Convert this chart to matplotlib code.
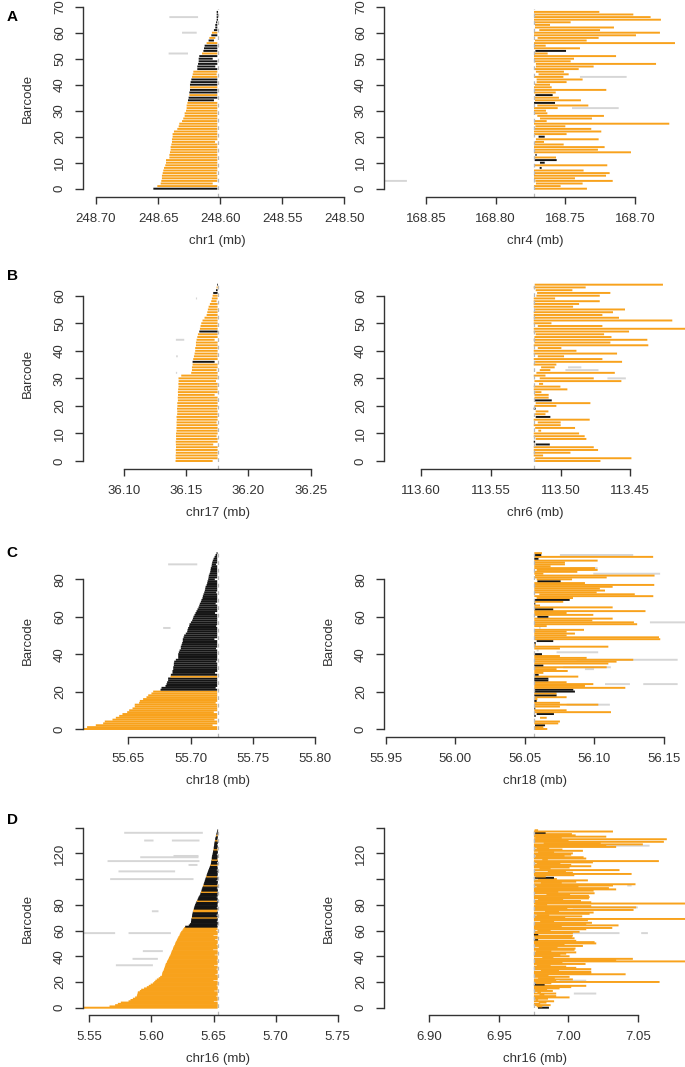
import matplotlib
matplotlib.use("Agg")
import matplotlib.pyplot as plt
from matplotlib.collections import LineCollection

plt.rcParams['font.family'] = ['Liberation Sans', 'DejaVu Sans']

# ---------------------------------------------------------------- data
# Every read (barcode) is a segment given as distances (kb) from the breakpoint,
# measured away from it.

# Panel A, left (chr1)
A_L_start = [51.8, 48.6, 45.9, 45.4, 44.9, 44.9, 44.3, 43.8, 43.2, 42.2,
             41.6, 41.6, 38.9, 38.9, 38.4, 37.9, 37.9, 37.3, 36.8, 36.8,
             36.3, 36.3, 35.2, 32.5, 31.4, 30.9, 28.7, 27.7, 26.6, 26.6,
             25.5, 25.0, 25.0, 24.4, 23.9, 23.4, 22.8, 22.8, 22.3, 22.3,
             22.3, 21.8, 21.2, 20.7, 20.1, 19.6, 16.4, 16.4, 15.8, 15.3,
             15.3, 14.8, 12.6, 11.5, 11.0, 10.5, 8.9, 7.3, 6.7, 5.1,
             4.6, 3.0, 1.9, 1.9, 1.3, 0.8, 0.8, 0.8, 0.8]
A_L_end = [0.3, 0.3, 4.0, 0.3, 0.3, 0.3, 0.8, 0.3, 0.3, 0.3,
           0.3, 0.3, 0.3, 0.3, 0.3, 0.3, 0.3, 0.3, 2.1, 0.3,
           0.3, 0.3, 0.3, 0.3, 0.3, 0.3, 0.3, 0.3, 0.3, 0.3,
           0.3, 0.3, 0.3, 0.3, 3.0, 0.3, 0.3, 0.3, 0.3, 0.3,
           0.3, 0.3, 0.3, 0.3, 0.8, 0.3, 0.3, 1.9, 0.3, 0.3,
           4.0, 0.3, 0.3, 0.3, 0.3, 0.3, 0.3, 3.0, 1.9, 0.3,
           0.3, 0.3, 0.3, 0.3, 0.3, -0.3, -0.3, -0.3, -0.3]
A_L_black = [0, 34, 35, 37, 38, 40, 41, 42, 46, 47, 48, 49, 50, 51, 53, 54, 55,
             57, 59, 61, 62, 63, 64, 65, 66, 67, 68]
A_L_grey = []
A_L_x_bc = [66, 60, 52]
A_L_x_s = [38.9, 28.7, 39.5]
A_L_x_e = [15.8, 16.9, 23.9]

# Panel A, right (chr4)
A_R_start = [0, 0, 1.4, 1.0, 0, 0, 0.7, 0, 4.1, 0,
             4.3, 0.5, 0, 1.0, 0, 0, 0, 0, 0.7, 1.4,
             3.3, 0, 0, 0, 1.0, 0, 0, 4.3, 2.4, 0,
             0, 0, 2.4, 0, 0.7, 0, 1.0, 0, 0, 0,
             0.7, 1.9, 1.9, 0, 3.3, 1.4, 0, 1.4, 1.4, 0,
             0, 0, 0, 1.0, 0, 0, 0, 0.7, 2.6, 0,
             0, 3.8, 0.7, 0.7, 0, 0, 0, 0, 0]
A_R_end = [38.0, 19.1, 34.9, 56.5, 29.4, 51.7, 54.3, 35.6, 5.5, 52.6,
           7.7, 16.3, 15.8, 1.9, 69.6, 45.9, 50.7, 21.3, 7.2, 46.4,
           7.7, 23.4, 48.3, 41.1, 22.5, 97.1, 9.1, 41.6, 50.2, 9.6,
           8.6, 17.0, 39.0, 15.1, 33.7, 17.9, 13.4, 15.6, 51.9, 12.7,
           11.5, 23.4, 34.9, 21.1, 24.9, 21.5, 32.1, 42.8, 87.6, 26.3,
           28.7, 58.9, 9.8, 23.0, 33.0, 8.4, 101.2, 37.8, 46.4, 73.2,
           90.4, 47.4, 57.4, 11.5, 26.3, 91.1, 83.7, 71.3, 46.9]
A_R_black = [8, 10, 11, 13, 20, 33, 36, 53]
A_R_grey = []
A_R_x_bc = [3, 31, 43]
A_R_x_s = [-118.0, 27.3, 33.0]
A_R_x_e = [-91.2, 60.8, 66.5]

# Panel B, left (chr17)
B_L_start = [33.8, 33.6, 33.7, 33.5, 33.6, 33.4, 33.5, 33.6, 33.3, 33.4,
             33.4, 33.0, 33.1, 32.9, 33.0, 32.8, 33.0, 32.5, 32.4, 32.6,
             32.3, 32.4, 31.9, 32.0, 31.8, 31.9, 31.7, 31.4, 31.5, 31.3,
             31.4, 29.2, 21.2, 20.6, 20.6, 20.1, 20.1, 19.6, 19.0, 18.5,
             18.0, 18.0, 17.4, 17.4, 16.9, 16.3, 15.8, 14.7, 14.2, 13.7,
             13.1, 12.1, 10.5, 8.8, 8.3, 7.8, 7.2, 6.2, 5.1, 4.6,
             4.0, 3.5, 1.3, 0.8, 0.3]
B_L_end = [4.0, 0, 0, 0, 0, 0, 3.5, 0, 0, 0.8,
           0, 0, 0, 0, 0.8, 0, 0, 0, 0, 0.3,
           0, 0, 0, 0, 2.4, 0, 0, 0, 0, 1.3,
           0, 0, 0, 0.8, 0, 0, 2.4, 0, 0, 0,
           0, 0, 0, 0, 2.4, 0, 0, 0, 0, 0,
           0, 0, 0, 0, 0, 0, 0, 0, 0.8, 0,
           0, 0, 0, 0, -0.3]
B_L_black = [36, 47, 61, 62, 64]
B_L_grey = []
B_L_x_bc = [59, 44, 38, 32]
B_L_x_s = [17.4, 33.5, 33.3, 33.5]
B_L_x_e = [16.5, 26.8, 32.0, 32.5]

# Panel B, right (chr6)
B_R_start = [1.0, 1.0, 0, 0, 0, 0, 1.4, 0, 1.4, 0,
             0, 3.3, 1.0, 0, 2.9, 0, 1.4, 1.0, 1.4, 0,
             0.5, 1.4, 0.5, 0.5, 0.5, 1.0, 0, 0, 3.8, 0.5,
             4.3, 0, 1.9, 4.3, 5.3, 0, 1.0, 0, 2.9, 0,
             0, 2.9, 0, 0.5, 0, 0.5, 1.4, 0, 0, 2.9,
             0, 0, 0, 0, 0, 1.0, 0, 0, 0, 0,
             1.9, 2.4, 1.4, 0, 0.7]
B_R_end = [47.8, 70.0, 6.7, 26.3, 46.1, 43.0, 11.5, 1.0, 37.7, 36.5,
           32.5, 5.3, 29.6, 19.3, 19.3, 40.1, 11.9, 8.4, 10.5, 1.4,
           16.2, 40.6, 12.9, 10.7, 10.7, 5.5, 24.1, 19.1, 6.7, 62.8,
           43.0, 8.4, 58.1, 11.9, 15.0, 16.2, 63.3, 49.2, 21.7, 59.7,
           30.6, 19.8, 82.1, 54.9, 81.4, 55.7, 50.4, 68.3, 115.0, 49.2,
           12.7, 99.3, 61.1, 49.2, 56.8, 65.4, 28.2, 32.5, 47.3, 15.3,
           47.3, 54.9, 27.7, 37.2, 92.6]
B_R_black = [6, 7, 16, 19, 22]
B_R_grey = []
B_R_x_bc = [34, 33, 30]
B_R_x_s = [24.6, 22.7, 52.8]
B_R_x_e = [34.1, 46.4, 66.0]

# Panel C, left (chr18)
C_L_start = [112.0, 104.8, 97.8, 91.9, 90.6, 84.4, 81.7, 79.0, 76.4, 72.6,
             71.0, 68.3, 66.5, 66.5, 63.0, 62.4, 59.8, 57.1, 55.7, 53.1,
             51.7, 45.8, 45.0, 41.8, 41.0, 40.5, 39.7, 39.7, 37.8, 37.5,
             36.2, 36.2, 35.6, 35.6, 35.1, 35.1, 34.8, 33.5, 31.6, 31.6,
             31.6, 31.1, 30.5, 29.5, 29.5, 28.9, 28.4, 27.9, 27.9, 27.3,
             26.8, 25.5, 24.4, 24.1, 23.6, 22.8, 22.5, 21.4, 20.4, 19.8,
             19.3, 18.5, 17.7, 16.9, 16.1, 15.3, 14.7, 14.2, 13.4, 12.9,
             12.1, 11.8, 11.3, 10.7, 10.2, 9.9, 9.6, 8.8, 8.3, 8.0,
             7.5, 7.2, 7.0, 6.4, 5.9, 5.6, 5.4, 4.8, 4.6, 4.3,
             3.8, 3.2, 2.4, 1.6, 0.8]
C_L_end = [0.3, 0.3, 4.0, 0.3, 0.3, 2.5, 0.3, 0.3, 0.3, 3.0,
           0.3, 0.3, 0.3, 0.3, 1.5, 0.3, 0.3, 0.3, 0.3, 0.3,
           0.3, 0.3, 1.5, 0.3, 0.3, 0.3, 0.3, 0.3, 0.3, 0.3,
           2.0, 0.3, 0.3, 0.3, 0.3, 0.3, 1.0, 0.3, 0.3, 0.3,
           0.3, 0.3, 0.3, 1.2, 0.3, 0.3, 0.3, 0.3, 2.5, 0.3,
           0.3, 0.3, 0.3, 0.3, 0.3, 1.0, 0.3, 0.3, 0.3, 0.3,
           0.3, 0.3, 2.0, 0.3, 0.3, 0.3, 0.3, 1.5, 0.3, 0.3,
           0.3, 0.3, 0.3, 1.0, 0.3, 0.3, 0.3, 0.3, 0.3, 0.3,
           2.2, 0.3, 0.3, 0.3, 0.3, 0.3, 0.3, 0.3, 1.2, 0.3,
           0.3, 0.3, 0.3, 0.3, 0.0]
C_L_black = list(range(21, 28)) + list(range(29, 95))
C_L_grey = []
C_L_x_bc = [88, 54]
C_L_x_s = [39.7, 43.7]
C_L_x_e = [16.3, 37.8]

# Panel C, right (chr18)
C_R_start = [0, 0, 0.5, 0, 0, 0, 4.1, 0, 1.7, 0,
             0, 0, 0, 0, 0, 0, 0, 0, 0, 0,
             0, 0, 0, 0, 0, 0, 0, 0, 0, 0,
             0, 0, 0, 0, 0, 0, 0, 0, 0, 0,
             0, 16.0, 1.7, 0, 0, 0, 0, 1.7, 0, 0,
             0, 0, 0, 0, 3.4, 0, 0, 0, 0, 0,
             2.2, 0, 0, 0, 0, 0, 0, 0, 0, 0.5,
             1.7, 0, 3.6, 0, 0, 0, 0, 0, 0, 2.2,
             1.7, 0, 0.5, 0, 0, 1.7, 0, 0, 0, 0,
             0, 0, 0, 0.5, 0]
C_R_end = [9.3, 6.5, 7.7, 17.2, 18.4, 0.5, 8.9, 1.0, 14.1, 55.1,
           23.2, 0.7, 18.4, 46.0, 18.4, 1.7, 2.2, 23.2, 16.0, 16.0,
           29.2, 28.0, 65.4, 36.4, 42.4, 23.2, 10.1, 10.1, 31.6, 3.1,
           6.5, 24.0, 16.0, 52.0, 6.5, 53.2, 59.1, 71.1, 37.6, 18.4,
           5.5, 45.9, 3.1, 18.4, 53.2, 1.2, 1.0, 13.6, 90.5, 89.6,
           23.2, 29.2, 23.2, 35.7, 4.5, 8.9, 73.9, 71.6, 41.7, 56.3,
           10.1, 42.4, 23.2, 79.9, 13.6, 56.3, 4.1, 0.7, 20.8, 25.4,
           27.8, 85.5, 72.2, 44.8, 50.8, 47.1, 56.3, 86.2, 36.4, 18.9,
           27.1, 52.0, 86.4, 6.5, 30.9, 45.5, 43.6, 11.7, 22.0, 22.0,
           45.5, 3.0, 85.4, 5.0, 5.5]
C_R_black = [2, 7, 8, 11, 15, 18, 20, 21, 26, 27, 29, 34, 40, 46, 47, 60, 64,
             67, 69, 79, 91, 93]
C_R_grey = [5, 41, 42, 54]
C_R_x_bc = [13, 24, 24, 32, 33, 37, 57, 83, 93, 86]
C_R_x_s = [23.2, 50.8, 78.3, 36.4, 20.8, 30.4, 83.1, 42.4, 18.4, 25.6]
C_R_x_e = [54.3, 68.7, 103.0, 42.9, 55.0, 103.0, 112.0, 90.4, 71.1, 45.5]

# Panel D, left (chr16)
D_L_start = [112.0, 87.2, 82.7, 80.5, 78.1, 71.9, 70.3, 68.4, 66.6, 65.2,
             64.9, 64.6, 64.4, 62.8, 61.7, 59.4, 57.2, 55.6, 54.1, 52.3,
             51.2, 50.3, 49.1, 47.6, 46.4, 45.1, 44.9, 44.6, 44.3, 43.6,
             43.3, 42.9, 42.6, 42.2, 41.9, 41.2, 40.9, 40.2, 39.7, 39.3,
             38.7, 38.1, 37.8, 37.4, 37.0, 36.4, 36.1, 35.7, 35.1, 34.6,
             34.3, 33.8, 33.2, 32.8, 32.2, 31.7, 31.0, 30.6, 30.1, 29.5,
             28.6, 27.9, 27.2, 26.3, 23.4, 22.5, 21.7, 21.6, 21.4, 21.2,
             21.0, 20.8, 20.6, 20.4, 20.2, 19.9, 19.6, 19.3, 19.0, 18.6,
             18.3, 17.8, 17.3, 16.9, 16.4, 15.9, 15.4, 14.8, 14.2, 13.9,
             13.6, 13.2, 12.9, 12.5, 12.1, 11.8, 11.4, 11.0, 10.7, 10.4,
             10.0, 9.7, 9.4, 9.0, 8.6, 8.3, 7.9, 7.5, 7.1, 6.7,
             6.3, 6.0, 5.6, 5.4, 5.2, 5.0, 4.9, 4.8, 4.6, 4.3,
             4.1, 3.9, 3.7, 3.5, 3.3, 3.2, 3.0, 2.9, 2.7, 2.5,
             2.3, 2.1, 1.9, 1.6, 1.4, 1.1, 0.9, 0.6, 0.3]
D_L_end = [0.2, 0.2, 0.2, 0.2, 0.2, 3.2, 0.2, 0.2, 0.2, 1.5,
           0.2, 0.2, 0.2, 2.8, 0.2, 0.2, 0.2, 1.0, 0.2, 0.2,
           0.2, 3.5, 0.2, 0.2, 0.2, 0.2, 2.0, 0.2, 0.2, 0.2,
           1.2, 0.2, 0.2, 3.0, 0.2, 0.2, 0.2, 0.9, 0.2, 0.2,
           0.2, 2.5, 0.2, 0.2, 0.2, 3.8, 0.2, 0.2, 0.2, 1.0,
           0.2, 0.2, 0.2, 2.2, 0.2, 0.2, 3.5, 0.2, 0.2, 0.2,
           1.4, 0.2, 0.8, 0.2, 0.5, 0.2, 0.0, 0.8, 0.2, 0.2,
           0.5, 0.2, 1.2, 0.2, 0.0, 0.6, 0.2, 0.2, 0.9, 0.2,
           0.4, 0.2, 0.0, 0.7, 0.2, 0.2, 1.0, 0.2, 0.3, 0.2,
           0.5, 0.0, 0.2, 0.8, 0.2, 0.2, 0.4, 0.2, 0.0, 1.1,
           0.2, 0.2, 0.6, 0.2, 0.2, 0.3, 0.0, 0.9, 0.2, 0.2,
           0.5, 0.2, 0.2, 0.7, 0.0, 0.2, 0.4, 0.2, 0.2, 0.8,
           0.2, 0.0, 0.3, 0.2, 0.5, 0.2, 0.2, 0.6, 0.0, 0.2,
           0.2, 0.4, 0.2, 0.0, 0.2, 0.3, 0.2, 0.0, -0.2]
D_L_orange_in_black = [70, 75, 76, 83, 90, 95, 102, 111, 115, 123, 130, 134]
D_L_black = [i for i in range(63, 139) if i not in D_L_orange_in_black]
D_L_grey = []
D_L_x_bc = [136, 130, 130, 118, 117, 114, 111, 106, 100, 75, 58, 58, 44, 38, 33]
D_L_x_s = [75.4, 59.3, 37.0, 35.7, 62.5, 88.8, 23.6, 80.0, 86.7, 53.1, 112.0, 71.9, 60.4, 68.7, 82.1]
D_L_x_e = [12.1, 51.8, 14.8, 15.6, 15.6, 14.8, 16.4, 34.4, 19.6, 47.8, 82.7, 37.8, 44.3, 48.3, 52.3]

# Panel D, right (chr16)
D_R_start = [2.9, 2.0, 0, 0, 3.5, 0, 1.2, 0, 0, 0,
             4.0, 0, 2.5, 0, 0, 0, 0, 0, 0, 1.5,
             0, 0, 0, 3.0, 0, 0, 0, 0, 0, 5.0,
             0, 0, 0, 2.0, 0, 0, 0, 0, 0, 6.0,
             0, 0, 0, 0, 1.5, 0, 0, 3.5, 0, 0,
             0, 0, 0, 0, 0, 0, 0, 0, 0, 0,
             2.5, 0, 0, 0, 0, 0, 0, 4.5, 0, 0,
             0, 0, 2.0, 0, 0, 8.0, 0, 0, 0, 0,
             1.0, 0, 0, 0, 3.0, 0, 0, 0, 9.0, 0,
             0, 0, 0, 0, 2.0, 0, 0, 5.0, 0, 0,
             3.0, 0, 1.0, 0, 0, 0, 10.0, 0, 4.0, 0,
             0, 0, 2.0, 0, 0, 6.0, 0, 0, 1.5, 0,
             0, 3.0, 0, 0, 2.0, 0, 0, 0, 7.0, 0,
             0, 0, 1.0, 0, 0, 0, 0, 0, 0.5]
D_R_end = [10.8, 6.0, 12.0, 4.5, 9.0, 14.5, 3.0, 10.1, 25.6, 16.0,
           7.5, 16.0, 5.0, 13.6, 9.5, 18.4, 26.8, 37.6, 7.7, 12.5,
           90.3, 16.0, 28.0, 15.0, 25.6, 10.5, 65.9, 41.2, 41.2, 18.0,
           41.2, 30.4, 23.2, 12.0, 37.1, 20.5, 110.0, 59.1, 71.1, 14.0,
           25.6, 19.0, 23.2, 30.4, 12.5, 29.2, 29.9, 17.0, 35.2, 22.0,
           44.8, 43.6, 30.4, 3.0, 29.2, 27.3, 28.0, 3.1, 28.0, 32.8,
           12.0, 37.6, 56.3, 20.0, 60.8, 37.6, 41.7, 14.5, 38.8, 110.0,
           22.5, 34.7, 11.0, 40.0, 42.9, 18.0, 71.6, 24.0, 73.5, 41.2,
           9.5, 110.0, 41.2, 33.8, 21.0, 39.5, 40.0, 39.5, 26.0, 43.6,
           17.5, 42.9, 59.1, 53.9, 32.0, 56.8, 73.0, 20.0, 30.4, 38.8,
           16.5, 14.4, 8.5, 29.0, 70.2, 28.0, 23.0, 61.5, 12.0, 25.6,
           41.2, 26.8, 19.0, 42.4, 89.8, 10.0, 37.6, 35.7, 22.0, 26.8,
           28.0, 14.5, 35.2, 20.5, 11.0, 59.1, 52.0, 78.3, 48.0, 93.4,
           24.9, 95.5, 20.0, 52.0, 30.0, 27.3, 8.4, 56.8, 3.0]
D_R_black = [0, 18, 53, 57, 101, 136]
D_R_grey = []
D_R_x_bc = [126, 95, 78, 58, 58, 21, 11]
D_R_x_s = [25.6, 67.1, 28.0, 21.1, 77.1, 18.4, 28.7]
D_R_x_e = [83.1, 70.2, 74.7, 61.5, 81.9, 37.6, 44.8]

# axis annotations
breakpoints = {'AL': 248.602, 'AR': 168.7725, 'BL': 36.1752, 'BR': 113.5192,
               'CL': 55.7217, 'CR': 56.0568, 'DL': 5.6535, 'DR': 6.9752}
xticks = {'AL': [248.70, 248.65, 248.60, 248.55, 248.50],
          'AR': [168.85, 168.80, 168.75, 168.70],
          'BL': [36.10, 36.15, 36.20, 36.25],
          'BR': [113.60, 113.55, 113.50, 113.45],
          'CL': [55.65, 55.70, 55.75, 55.80],
          'CR': [55.95, 56.00, 56.05, 56.10, 56.15],
          'DL': [5.55, 5.60, 5.65, 5.70, 5.75],
          'DR': [6.90, 6.95, 7.00, 7.05]}
xlabels = {'AL': 'chr1 (mb)', 'AR': 'chr4 (mb)', 'BL': 'chr17 (mb)', 'BR': 'chr6 (mb)',
           'CL': 'chr18 (mb)', 'CR': 'chr18 (mb)', 'DL': 'chr16 (mb)', 'DR': 'chr16 (mb)'}
yticks = {'A': [0, 10, 20, 30, 40, 50, 60, 70], 'B': [0, 10, 20, 30, 40, 50, 60],
          'C': [0, 20, 40, 60, 80], 'D': [0, 20, 40, 60, 80, 100, 120, 140]}
ytick_labels = {'A': ['0', '10', '20', '30', '40', '50', '60', '70'],
                'B': ['0', '10', '20', '30', '40', '50', '60'],
                'C': ['0', '20', '40', '60', '80'],
                'D': ['0', '20', '40', '60', '80', '', '120', '']}

data = {
    'AL': (A_L_start, A_L_end, A_L_black, A_L_grey, A_L_x_bc, A_L_x_s, A_L_x_e),
    'AR': (A_R_start, A_R_end, A_R_black, A_R_grey, A_R_x_bc, A_R_x_s, A_R_x_e),
    'BL': (B_L_start, B_L_end, B_L_black, B_L_grey, B_L_x_bc, B_L_x_s, B_L_x_e),
    'BR': (B_R_start, B_R_end, B_R_black, B_R_grey, B_R_x_bc, B_R_x_s, B_R_x_e),
    'CL': (C_L_start, C_L_end, C_L_black, C_L_grey, C_L_x_bc, C_L_x_s, C_L_x_e),
    'CR': (C_R_start, C_R_end, C_R_black, C_R_grey, C_R_x_bc, C_R_x_s, C_R_x_e),
    'DL': (D_L_start, D_L_end, D_L_black, D_L_grey, D_L_x_bc, D_L_x_s, D_L_x_e),
    'DR': (D_R_start, D_R_end, D_R_black, D_R_grey, D_R_x_bc, D_R_x_s, D_R_x_e),
}

# ---------------------------------------------------------------- layout (pixels)
W, H = 685, 1067
ROWS = {'A': (196.7, 188.7, 2.6, 0.0),       # x-axis line, y=0 pixel, px per barcode, top
        'B': (469.0, 461.0, 2.755, 277.0),
        'C': (736.7, 729.0, 1.871, 545.0),
        'D': (1015.0, 1007.7, 1.286, 822.0)}
COLS = {'L': (83.0, 352.0), 'R': (384.0, 686.0)}
TICKPX = {'AL': (96.0, 344.3), 'AR': (426.0, 635.0), 'BL': (124.0, 310.7),
          'BR': (421.0, 630.3), 'CL': (128.3, 315.0), 'CR': (385.7, 664.0),
          'DL': (89.3, 337.7), 'DR': (429.3, 638.0)}
LETTER_Y = {'A': 17, 'B': 276, 'C': 553, 'D': 820}

ORANGE = '#F8A21C'
BLACK = '#141414'
GREY = '#D6D6D6'
AXC = '#333333'
LW = 1.4
FS = 9.5

fig = plt.figure(figsize=(W / 100, H / 100), dpi=100)

for key in ['AL', 'AR', 'BL', 'BR', 'CL', 'CR', 'DL', 'DR']:
    row, side = key[0], key[1]
    xb, y0, ppu, top = ROWS[row]
    x0, x1 = COLS[side]
    ax = fig.add_axes([x0 / W, 1 - xb / H, (x1 - x0) / W, (xb - top) / H])
    ax.set_facecolor('none')
    ticks = xticks[key]
    p1, p2 = TICKPX[key]
    slope = (ticks[-1] - ticks[0]) / (p2 - p1)
    ax.set_xlim(ticks[0] + (x0 - p1) * slope, ticks[0] + (x1 - p1) * slope)
    ax.set_ylim(-(xb - y0) / ppu, (y0 - top) / ppu)
    sgn = 1 if slope > 0 else -1
    d = -sgn if side == 'L' else sgn
    bp = breakpoints[key]
    starts, ends, black, grey, xbc, xs, xe = data[key]

    segs, cols = [], []
    for b, s, e in zip(xbc, xs, xe):
        segs.append([(bp + d * s / 1000, b), (bp + d * e / 1000, b)])
        cols.append(GREY)
    for i, (s, e) in enumerate(zip(starts, ends)):
        segs.append([(bp + d * s / 1000, i), (bp + d * e / 1000, i)])
        cols.append(BLACK if i in black else (GREY if i in grey else ORANGE))
    lc = LineCollection(segs, colors=cols, linewidths=LW, capstyle='butt')
    lc.set_snap(False)
    ax.add_collection(lc)

    n = len(starts)
    ax.vlines(bp, ax.get_ylim()[0], n, colors='#B8B8B8', linewidth=0.9,
              linestyles=(0, (3, 3)))

    for sp in ['top', 'right']:
        ax.spines[sp].set_visible(False)
    for sp in ['left', 'bottom']:
        ax.spines[sp].set_color(AXC)
        ax.spines[sp].set_linewidth(1.0)
    ax.spines['bottom'].set_bounds(min(ticks), max(ticks))
    yt = yticks[row]
    ax.spines['left'].set_bounds(0, yt[-1])
    ax.set_xticks(ticks)
    ax.set_xticklabels(['%.2f' % t for t in ticks])
    ax.set_yticks(yt)
    ax.set_yticklabels(ytick_labels[row], rotation=90, va='center')
    ax.tick_params(axis='x', length=5, width=1.0, color=AXC, labelcolor=AXC,
                   labelsize=FS, pad=6.5)
    ax.tick_params(axis='y', length=5.8, width=1.0, color=AXC, labelcolor=AXC,
                   labelsize=FS, pad=6.5)

    xc = (x0 + x1) / 2
    fig.text(xc / W, 1 - (xb + 44) / H, xlabels[key], ha='center', va='center',
             fontsize=FS, color=AXC)
    if side == 'L' or row in ('C', 'D'):
        fig.text((x0 - 55) / W, 1 - ((xb + top) / 2) / H, 'Barcode', rotation=90,
                 ha='center', va='center', fontsize=FS, color=AXC)
    if side == 'L':
        fig.text(12 / W, 1 - LETTER_Y[row] / H, row, ha='center', va='center',
                 fontsize=11, fontweight='bold', color='black')

fig.savefig('out.png', dpi=100)
